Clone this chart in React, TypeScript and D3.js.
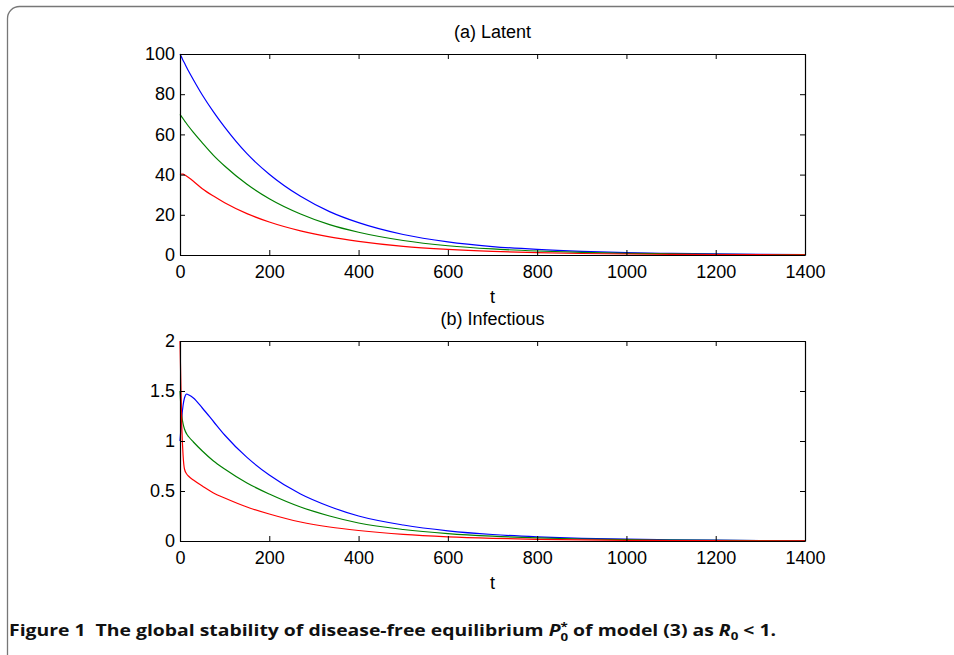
import * as d3 from 'd3';
import React, { useEffect, useRef } from 'react';

// sample times (shared by every curve)
const times = [0, 2, 4, 7, 10, 15, 20, 30, 50, 75, 100, 150, 200, 270, 335, 400, 500, 600, 700, 800, 900, 1000, 1100, 1200, 1300, 1400];

// (a) Latent
const latentBlue = [100, 99.1, 98.2, 96.8, 95.5, 93.3, 91.2, 87.2, 79.6, 71.2, 63.6, 50.4, 40.2, 29.2, 21.6, 16.1, 10.2, 6.5, 4.2, 2.75, 1.8, 1.2, 0.8, 0.52, 0.34, 0.22];
const latentGreen = [70, 69.4, 68.7, 67.8, 66.8, 65.3, 63.8, 61, 55.8, 49.6, 44.3, 35.2, 28, 20.4, 15.1, 11.3, 7.2, 4.6, 3.0, 2.0, 1.3, 0.85, 0.56, 0.37, 0.24, 0.16];
const latentRed = [40, 40.2, 40.3, 40.2, 39.9, 39.2, 38.4, 36.7, 33, 29.3, 26, 20.6, 16.4, 12, 9, 6.8, 4.3, 2.8, 1.8, 1.15, 0.75, 0.49, 0.32, 0.21, 0.14, 0.09];

// (b) Infectious
const infBlue = [1.0, 1.12, 1.24, 1.36, 1.43, 1.47, 1.46, 1.43, 1.33, 1.195, 1.06, 0.836, 0.66, 0.47, 0.345, 0.25, 0.16, 0.102, 0.065, 0.042, 0.027, 0.018, 0.012, 0.008, 0.005, 0.003];
const infGreen = [1.5, 1.35, 1.25, 1.17, 1.12, 1.07, 1.04, 0.99, 0.9, 0.8, 0.72, 0.58, 0.47, 0.34, 0.25, 0.18, 0.115, 0.074, 0.048, 0.031, 0.02, 0.013, 0.0085, 0.0055, 0.0036, 0.0024];
const infRed = [2.0, 1.55, 1.15, 0.85, 0.72, 0.67, 0.645, 0.61, 0.55, 0.48, 0.43, 0.34, 0.27, 0.19, 0.14, 0.105, 0.066, 0.042, 0.027, 0.017, 0.011, 0.007, 0.0045, 0.003, 0.002, 0.0013];

const xTicks = [0, 200, 400, 600, 800, 1000, 1200, 1400];
const latentTicks = [0, 20, 40, 60, 80, 100];
const infTicks = [0, 0.5, 1, 1.5, 2];

const seriesColors = ['#0000ff', '#008000', '#ff0000'];

const W = 954;
const H = 655;
const font = '"Liberation Sans", Arial, sans-serif';
const fontSize = 18;

function drawPanel(svg, opts) {
    const { top, bottom, yMax, yTicks, title, series } = opts;
    const left = 180, right = 805;
    const x = d3.scaleLinear().domain([0, 1400]).range([left, right]);
    const y = d3.scaleLinear().domain([0, yMax]).range([bottom, top]);
    const g = svg.append('g');

    const line = d3.line()
        .x((d, i) => x(times[i]))
        .y(d => y(d))
        .curve(d3.curveMonotoneX);

    series.forEach((s, k) => {
        g.append('path')
            .attr('d', line(s))
            .attr('fill', 'none')
            .attr('stroke', seriesColors[k])
            .attr('stroke-width', 1.2);
    });

    // box with inward ticks on all sides
    const tl = 5;
    g.append('g')
        .attr('transform', 'translate(0,' + bottom + ')')
        .call(d3.axisBottom(x).tickValues(xTicks).tickSizeInner(-tl).tickSizeOuter(0).tickPadding(10).tickFormat(d3.format('d')));
    g.append('g')
        .attr('transform', 'translate(0,' + top + ')')
        .call(d3.axisTop(x).tickValues(xTicks).tickSizeInner(-tl).tickSizeOuter(0).tickFormat(() => ''));
    g.append('g')
        .attr('transform', 'translate(' + left + ',0)')
        .call(d3.axisLeft(y).tickValues(yTicks).tickSizeInner(-tl).tickSizeOuter(0).tickPadding(5).tickFormat(d => String(d)));
    g.append('g')
        .attr('transform', 'translate(' + right + ',0)')
        .call(d3.axisRight(y).tickValues(yTicks).tickSizeInner(-tl).tickSizeOuter(0).tickFormat(() => ''));

    g.selectAll('.domain').attr('stroke', '#000').attr('stroke-width', 1.2);
    g.selectAll('.tick line').attr('stroke', '#000');
    g.selectAll('.tick text')
        .attr('font-family', font)
        .attr('font-size', fontSize)
        .attr('fill', '#000');

    g.append('text')
        .attr('x', (left + right) / 2)
        .attr('y', top - 16)
        .attr('text-anchor', 'middle')
        .attr('font-family', font)
        .attr('font-size', fontSize)
        .text(title);

    g.append('text')
        .attr('x', (left + right) / 2)
        .attr('y', bottom + 48)
        .attr('text-anchor', 'middle')
        .attr('font-family', font)
        .attr('font-size', fontSize)
        .text('t');
}

export default function App() {
    const ref = useRef(null);

    useEffect(() => {
        const svg = d3.select(ref.current);
        svg.selectAll('*').remove();

        svg.append('rect')
            .attr('x', 7.5)
            .attr('y', 6.5)
            .attr('width', 1100)
            .attr('height', 800)
            .attr('rx', 12)
            .attr('fill', 'none')
            .attr('stroke', '#777')
            .attr('stroke-width', 1.3);

        drawPanel(svg, {
            top: 54, bottom: 255, yMax: 100, yTicks: latentTicks,
            title: '(a) Latent', series: [latentBlue, latentGreen, latentRed]
        });
        drawPanel(svg, {
            top: 341, bottom: 541, yMax: 2, yTicks: infTicks,
            title: '(b) Infectious', series: [infBlue, infGreen, infRed]
        });

        const cap = svg.append('text')
            .attr('x', 9)
            .attr('y', 636)
            .attr('font-family', '"Open Sans", "Noto Sans", sans-serif')
            .attr('font-weight', 'bold')
            .attr('font-size', 16)
            .attr('fill', '#111')
            .attr('textLength', 767)
            .attr('lengthAdjust', 'spacingAndGlyphs');
        cap.append('tspan').text('Figure 1\u00a0\u00a0The global stability of disease-free equilibrium ');
        cap.append('tspan').attr('font-style', 'italic').text('P');
        cap.append('tspan').attr('font-size', 11).attr('dy', -6).text('*');
        cap.append('tspan').attr('font-size', 11).attr('dx', -6).attr('dy', 11).text('0');
        cap.append('tspan').attr('dy', -5).text(' of model (3) as ');
        cap.append('tspan').attr('font-style', 'italic').text('R');
        cap.append('tspan').attr('font-size', 11).attr('dy', 4).text('0');
        cap.append('tspan').attr('dy', -4).text(' < 1.');
    }, []);

    return (
        <svg ref={ref} width={W} height={H}
            style={{ position: 'absolute', left: 0, top: 0, background: '#fff' }} />
    );
}
